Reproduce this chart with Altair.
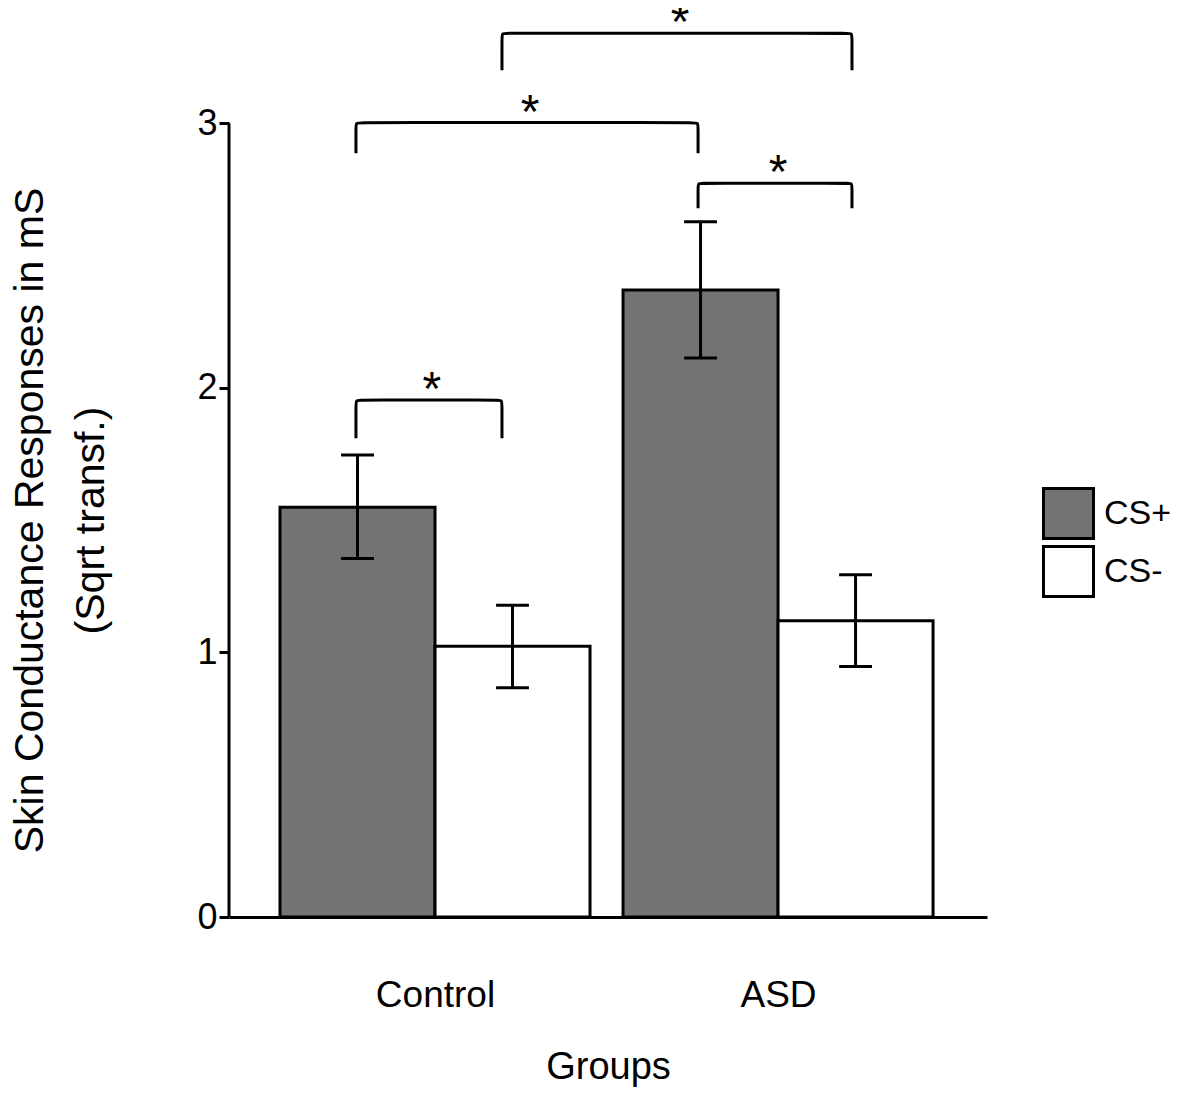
import altair as alt
import pandas as pd

# ---------------- data ----------------
groups = ["Control", "ASD"]
conditions = ["CS+", "CS-"]
fills = ["#737373", "#ffffff"]

# order: Control CS+, Control CS-, ASD CS+, ASD CS-
means = [1.549, 1.023, 2.370, 1.120]
err_hi = [1.746, 1.178, 2.628, 1.294]
err_lo = [1.355, 0.867, 2.113, 0.947]

y_ticks = [0, 1, 2, 3]

# significance brackets (x in bar-width units from first bar's left edge)
br_x1 = [0.49, 0.49, 2.697, 1.432]
br_x2 = [1.432, 2.697, 3.69, 3.69]
br_top = [1.954, 3.003, 2.774, 3.341]
br_bottom = [1.810, 2.887, 2.679, 3.201]
br_label = ["*", "*", "*", "*"]

y_title = ["Skin Conductance Responses in mS", "(Sqrt transf.)"]
x_title = "Groups"

# ---------------- layout constants ----------------
GROUP_GAP = 0.213
CAP_HALF = 0.106
CORNER_X = 0.03   # bracket corner rounding (x units)
CORNER_Y = 0.02   # bracket corner rounding (y units)
X_DOMAIN = [-0.329, 4.561]
Y_DOMAIN = [0, 3.436]
FONT = "Liberation Sans"

rows = []
for gi, g in enumerate(groups):
    for ci, c in enumerate(conditions):
        k = gi * len(conditions) + ci
        left = gi * (len(conditions) + GROUP_GAP) + ci
        rows.append(dict(group=g, condition=c, left=left, right=left + 1,
                         center=left + 0.5, cap_l=left + 0.5 - CAP_HALF,
                         cap_r=left + 0.5 + CAP_HALF, mean=means[k],
                         hi=err_hi[k], lo=err_lo[k], zero=0))
bar_df = pd.DataFrame(rows)

br_rows = []
for b in range(len(br_x1)):
    x1, x2, t, bt = br_x1[b], br_x2[b], br_top[b], br_bottom[b]
    pts = [(x1, bt), (x1, t - CORNER_Y), (x1, t), (x1 + CORNER_X, t),
           (x2 - CORNER_X, t), (x2, t), (x2, t - CORNER_Y), (x2, bt)]
    for o, (x, y) in enumerate(pts):
        br_rows.append(dict(b=b, o=o, x=x, y=y))
br_df = pd.DataFrame(br_rows)
star_df = pd.DataFrame(dict(mid=[(a + b) / 2 for a, b in zip(br_x1, br_x2)],
                            top=br_top, label=br_label))
axis_df = pd.DataFrame(dict(y0=[min(y_ticks)], y1=[max(y_ticks)]))

group_centers = [gi * (len(conditions) + GROUP_GAP) + len(conditions) / 2
                 for gi in range(len(groups))]
label_arr = "[" + ",".join("'" + g + "'" for g in groups) + "]"

xscale = alt.Scale(domain=X_DOMAIN, nice=False, zero=False)
yscale = alt.Scale(domain=Y_DOMAIN, nice=False)

xaxis = alt.Axis(values=group_centers,
                 labelExpr=f"{label_arr}[round(datum.index*{len(groups)-1})]",
                 ticks=False, tickSize=0, grid=False,
                 domain=True, domainWidth=3, domainColor="black",
                 labelFontSize=37, labelColor="black", labelFont=FONT,
                 labelBaseline="alphabetic", labelPadding=89,
                 labelAlign="center", labelFlush=False, labelOverlap=False,
                 title=x_title, titleFontSize=38, titleFont=FONT,
                 titleFontWeight="normal", titleColor="black",
                 titleBaseline="alphabetic", titleY=161)
yaxis = alt.Axis(values=y_ticks, format="d", grid=False, domain=False,
                 ticks=True, tickSize=10, tickWidth=3, tickColor="black",
                 labelFontSize=36, labelColor="black", labelFont=FONT,
                 labelPadding=2,
                 title=y_title, titleFontSize=41, titleFont=FONT,
                 titleFontWeight="normal", titleColor="black",
                 titleAngle=270, titleAlign="center",
                 titleBaseline="alphabetic", titleLineHeight=61,
                 titleX=-187, titleY=512)

bars = alt.Chart(bar_df).mark_rect(stroke="black", strokeWidth=3).encode(
    x=alt.X("left:Q", scale=xscale, axis=xaxis),
    x2="right:Q",
    y=alt.Y("mean:Q", scale=yscale, axis=yaxis),
    y2="zero:Q",
    fill=alt.Fill("condition:N",
                  scale=alt.Scale(domain=conditions, range=fills),
                  legend=alt.Legend(orient="none", legendX=813, legendY=479,
                                    title=None, symbolType="square",
                                    symbolSize=2500, symbolStrokeWidth=3,
                                    symbolStrokeColor="black",
                                    labelFontSize=34, labelFont=FONT,
                                    labelColor="black", labelOffset=9,
                                    rowPadding=-5, padding=0)),
)

err_v = alt.Chart(bar_df).mark_rule(color="black", strokeWidth=3).encode(
    x=alt.X("center:Q", scale=xscale, axis=xaxis),
    y=alt.Y("lo:Q", scale=yscale, axis=yaxis), y2="hi:Q")
cap_hi = alt.Chart(bar_df).mark_rule(color="black", strokeWidth=3).encode(
    x=alt.X("cap_l:Q", scale=xscale, axis=xaxis), x2="cap_r:Q",
    y=alt.Y("hi:Q", scale=yscale, axis=yaxis))
cap_lo = alt.Chart(bar_df).mark_rule(color="black", strokeWidth=3).encode(
    x=alt.X("cap_l:Q", scale=xscale, axis=xaxis), x2="cap_r:Q",
    y=alt.Y("lo:Q", scale=yscale, axis=yaxis))

y_line = alt.Chart(axis_df).mark_rule(color="black", strokeWidth=3).encode(
    x=alt.value(0),
    y=alt.Y("y0:Q", scale=yscale, axis=yaxis), y2="y1:Q")

brackets = alt.Chart(br_df).mark_line(color="black", strokeWidth=3,
                                      interpolate="basis").encode(
    x=alt.X("x:Q", scale=xscale, axis=xaxis),
    y=alt.Y("y:Q", scale=yscale, axis=yaxis),
    detail="b:N", order="o:Q")

stars = alt.Chart(star_df).mark_text(fontSize=48, font=FONT, color="black",
                                     baseline="alphabetic", align="center",
                                     dx=3, dy=5).encode(
    x=alt.X("mid:Q", scale=xscale, axis=xaxis),
    y=alt.Y("top:Q", scale=yscale, axis=yaxis),
    text="label:N")

chart = alt.layer(bars, err_v, cap_hi, cap_lo, y_line, brackets, stars).properties(
    width=758, height=909,
    autosize=alt.AutoSizeParams(type="none"),
    padding={"left": 221, "top": 0, "right": 186, "bottom": 171},
).configure(font=FONT).configure_view(stroke=None)

chart.save("out.html", embed_options={"renderer": "svg", "actions": False})
